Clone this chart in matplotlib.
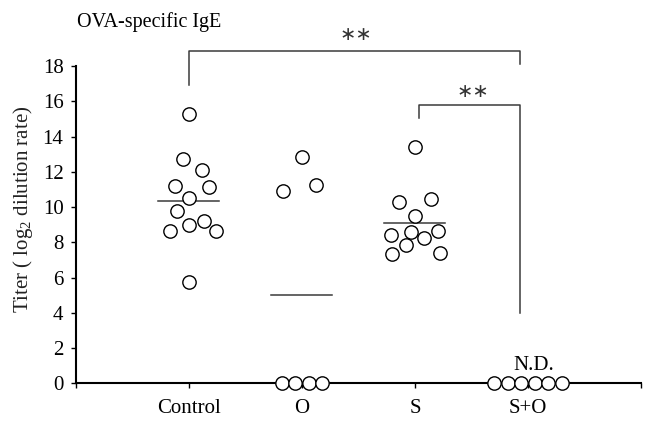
import numpy as np
import matplotlib.pyplot as plt

plt.rcParams['font.family'] = ['Liberation Serif', 'DejaVu Serif']
plt.rcParams['mathtext.fontset'] = 'custom'
plt.rcParams['mathtext.rm'] = 'Liberation Serif'
plt.rcParams['mathtext.it'] = 'Liberation Serif:italic'

# group names and their x positions
groups = ['Control', 'O', 'S', 'S+O']
pos = [1, 2, 3, 4]

# titer values (log2 dilution rate), with horizontal jitter
control_y = [15.28, 12.7, 12.1, 11.2, 11.15, 10.5, 9.8, 8.98, 9.2, 8.65, 8.65, 5.75]
control_dx = [0.0, -0.05, 0.115, -0.12, 0.177, 0.0, -0.11, 0.0, 0.13, -0.168, 0.236, 0.0]
o_y = [12.82, 10.9, 11.23, 0, 0, 0, 0]
o_dx = [0.0, -0.165, 0.12, -0.177, -0.058, 0.062, 0.18]
s_y = [13.39, 10.28, 10.44, 9.47, 8.43, 8.6, 8.65, 8.26, 7.86, 7.33, 7.39]
s_dx = [0.0, -0.14, 0.14, 0.0, -0.21, -0.035, 0.2, 0.08, -0.08, -0.2, 0.22]
so_y = [0, 0, 0, 0, 0, 0]
so_dx = [-0.3, -0.18, -0.06, 0.06, 0.18, 0.3]

all_y = [control_y, o_y, s_y, so_y]
all_dx = [control_dx, o_dx, s_dx, so_dx]

fig = plt.figure(figsize=(6.51, 4.22), dpi=100)
ax = fig.add_axes([0.1167, 0.0917, 0.8679, 0.7519])

for p, ys, dxs in zip(pos, all_y, all_dx):
    ax.plot(np.array(dxs) + p, ys, 'o', markersize=9.6, markerfacecolor='white',
            markeredgecolor='black', markeredgewidth=1.0, clip_on=False, zorder=3)
    # mean line (S+O not detected, no line)
    if p != 4:
        ax.plot([p - 0.27, p + 0.27], [np.mean(ys)] * 2, color='#3a3a3a', lw=1.1, zorder=2)

ax.set_xlim(0, 5)
ax.set_ylim(0, 18)
ax.set_yticks(range(0, 19, 2))
ax.set_xticks([0, 1, 2, 3, 4, 5])
ax.set_xticklabels([''] + groups + [''])
ax.tick_params(axis='both', direction='out', length=3.5, width=1.0, labelsize=15)
ax.tick_params(axis='x', pad=8)
ax.tick_params(axis='y', pad=5.5)
for s in ['top', 'right']:
    ax.spines[s].set_visible(False)
for s in ['left', 'bottom']:
    ax.spines[s].set_linewidth(1.5)

fig.text(23 / 651, 1 - 209 / 422, 'Titer ( log$_2$ dilution rate)', fontsize=15,
         rotation=90, ha='center', va='center', color='#222222')

# significance brackets
bc = '#3a3a3a'
ax.plot([1, 1, 3.93, 3.93], [16.92, 18.85, 18.85, 18.1], color=bc, lw=1.1, clip_on=False)
ax.plot([3.035, 3.035, 3.93, 3.93], [15.07, 15.78, 15.78, 3.97], color=bc, lw=1.1, clip_on=False)
ax.text(2.48, 19.76, '\u2217\u2217', family='DejaVu Sans', fontsize=14, ha='center', va='center', color='#333333')
ax.text(3.51, 16.54, '\u2217\u2217', family='DejaVu Sans', fontsize=14, ha='center', va='center', color='#333333')
ax.text(4.05, 0.75, 'N.D.', fontsize=15, ha='center', va='baseline')

fig.text(0.118, 0.936, 'OVA-specific IgE', fontsize=14.5, ha='left', va='baseline')

fig.savefig('out.png', dpi=100)
